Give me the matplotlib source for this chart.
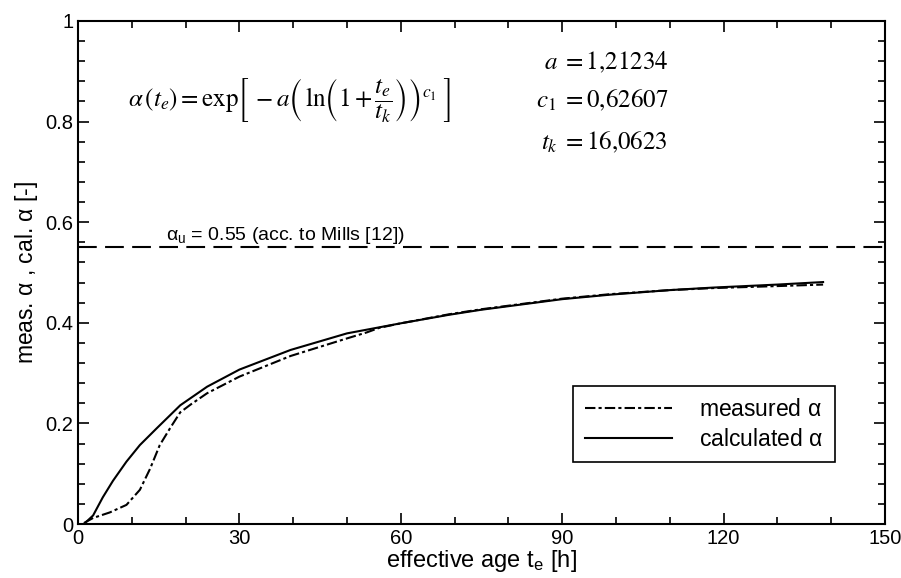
import matplotlib
matplotlib.use("Agg")
import matplotlib.pyplot as plt
from matplotlib.ticker import MultipleLocator

plt.rcParams['font.family'] = ['Liberation Sans', 'DejaVu Sans']
plt.rcParams['mathtext.fontset'] = 'stix'

# calculated alpha (solid)
te_calc = [1.1, 2.8, 4.6, 6.5, 9.0, 11.5, 14.6, 19, 24, 30, 39.5, 50, 56, 60,
           69, 75, 90, 99, 110, 118, 130, 138.5]
alpha_calc = [0.0, 0.017, 0.053, 0.086, 0.124, 0.157, 0.190, 0.236, 0.273, 0.307,
              0.346, 0.379, 0.391, 0.399, 0.416, 0.426, 0.447, 0.456, 0.465, 0.470,
              0.476, 0.481]

# measured alpha (dash-dot)
te_meas = [1.1, 2.8, 5.9, 9.0, 11.5, 13.4, 15.2, 17.2, 19, 21, 24, 30, 39.5, 50, 53.7,
           56, 60, 69, 75, 90, 99, 110, 118, 130, 138.5]
alpha_meas = [0.002, 0.012, 0.023, 0.038, 0.068, 0.110, 0.157, 0.192, 0.222, 0.238,
              0.260, 0.293, 0.334, 0.369, 0.381, 0.390, 0.399, 0.417, 0.427, 0.448,
              0.457, 0.465, 0.469, 0.473, 0.476]

alpha_u = 0.55

fig = plt.figure(figsize=(9.01, 5.78), dpi=100)
ax = fig.add_axes([0.0866, 0.0934, 0.8956, 0.8703])

ax.plot(te_meas, alpha_meas, color='black', lw=1.5, ls=(0, (5, 1.5, 1.5, 1.5)),
        label=r'measured $\mathregular{\alpha}$')
ax.plot(te_calc, alpha_calc, color='black', lw=1.5, ls='-',
        label=r'calculated $\mathregular{\alpha}$')
ax.axhline(alpha_u, color='black', lw=1.5, ls=(0, (9, 4)))

ax.text(38.5, 0.553, r'$\mathregular{\alpha_u}$ = 0.55 (acc. to Mills [12])',
        ha='center', va='bottom', fontsize=14)

ax.text(9.2, 0.843,
        r'$\alpha\,(t_e) = \mathrm{exp}\left[\,-a\left(\,\mathrm{ln}\left(1+\dfrac{t_e}{t_k}\right)\right)^{c_1}\;\right]$',
        ha='left', va='center', fontsize=18)
ax.text(109.7, 0.918, r'$a\;=\mathrm{1{,}21234}$', ha='right', va='center', fontsize=18)
ax.text(109.7, 0.843, r'$c_1\;=\mathrm{0{,}62607}$', ha='right', va='center', fontsize=18)
ax.text(109.7, 0.759, r'$t_k\;=\mathrm{16{,}0623}$', ha='right', va='center', fontsize=18)

ax.set_xlim(0, 150)
ax.set_ylim(0, 1)
ax.xaxis.set_major_locator(MultipleLocator(30))
ax.xaxis.set_minor_locator(MultipleLocator(10))
ax.yaxis.set_major_locator(MultipleLocator(0.2))
ax.yaxis.set_minor_locator(MultipleLocator(0.04))
ax.set_yticks([0, 0.2, 0.4, 0.6, 0.8, 1])
ax.set_yticklabels(['0', '0.2', '0.4', '0.6', '0.8', '1'])
ax.tick_params(which='both', direction='in', top=True, right=True, labelsize=14.5, width=1.2)
ax.tick_params(which='major', length=8)
ax.tick_params(which='minor', length=5)
for sp in ax.spines.values():
    sp.set_linewidth(1.5)

ax.set_xlabel(r'effective age t$_\mathregular{e}$ [h]', fontsize=17, labelpad=0)
ax.set_ylabel(r'meas. $\mathregular{\alpha}$ , cal. $\mathregular{\alpha}$ [-]', fontsize=16.5, labelpad=4)

leg = ax.legend(loc='lower right', bbox_to_anchor=(0.938, 0.123), borderaxespad=0,
                fontsize=16.5, fancybox=False, framealpha=1, edgecolor='black',
                handlelength=3.8, borderpad=0.5, labelspacing=0.3, handletextpad=1.2)
leg.get_frame().set_linewidth(1.2)

fig.savefig('out.png', dpi=100)
